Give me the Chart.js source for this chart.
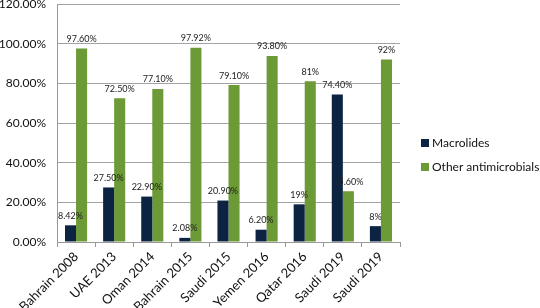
<!DOCTYPE html>
<html>
<head>
<meta charset="utf-8">
<script src="https://cdn.jsdelivr.net/npm/chart.js@4.4.0/dist/chart.umd.min.js"></script>
<style>
  html, body { margin: 0; padding: 0; background: #fff; }
  #wrap { width: 540px; height: 308px; }
</style>
</head>
<body>
<div id="wrap"><canvas id="chart"></canvas></div>
<script>
// chart data
const categories = ['Bahrain 2008', 'UAE 2013', 'Oman 2014', 'Bahrain 2015', 'Saudi 2015',
                    'Yemen 2016', 'Qatar 2016', 'Saudi 2019', 'Saudi 2019'];
const macrolides = [8.42, 27.5, 22.9, 2.08, 20.9, 6.2, 19, 74.4, 8];
const otherAntimicrobials = [97.6, 72.5, 77.1, 97.92, 79.1, 93.8, 81, 25.6, 92];
const yTicks = [0, 20, 40, 60, 80, 100, 120];

const NAVY = '#0c2442';
const GREEN = '#6b9a36';
const FONT = 'Lato, "DejaVu Sans", sans-serif';

// label text like the original: whole numbers without decimals
function pct(v) {
    return Number.isInteger(v) ? v + '%' : v.toFixed(2) + '%';
}

// draw value labels above each bar
const barLabels = {
    id: 'barLabels',
    afterDatasetsDraw(chart) {
        const ctx = chart.ctx;
        ctx.save();
        ctx.font = '9px ' + FONT;
        ctx.fillStyle = '#222';
        ctx.textAlign = 'center';
        ctx.textBaseline = 'bottom';
        chart.data.datasets.forEach((ds, i) => {
            chart.getDatasetMeta(i).data.forEach((bar, j) => {
                ctx.fillText(pct(ds.data[j]), bar.x, bar.y - 5);
            });
        });
        ctx.restore();
    }
};

// legend drawn by hand on the right side
const sideLegend = {
    id: 'sideLegend',
    afterDraw(chart) {
        const ctx = chart.ctx;
        ctx.save();
        ctx.font = '12px ' + FONT;
        ctx.textBaseline = 'middle';
        chart.data.datasets.forEach((ds, i) => {
            const y = 143 + i * 24;
            ctx.fillStyle = ds.backgroundColor;
            ctx.fillRect(421, y - 4, 8, 8);
            ctx.fillStyle = '#111';
            ctx.fillText(ds.label, 432, y);
        });
        ctx.restore();
    }
};

new Chart(document.getElementById('chart'), {
    type: 'bar',
    data: {
        labels: categories,
        datasets: [
            { label: 'Macrolides', data: macrolides, backgroundColor: NAVY },
            { label: 'Other antimicrobials', data: otherAntimicrobials, backgroundColor: GREEN }
        ]
    },
    options: {
        responsive: true,
        maintainAspectRatio: false,
        animation: false,
        layout: { padding: { top: 4, right: 140, left: 0, bottom: 0 } },
        datasets: { bar: { categoryPercentage: 0.58, barPercentage: 1 } },
        plugins: { legend: { display: false }, tooltip: { enabled: false } },
        scales: {
            x: {
                grid: { drawOnChartArea: false, drawTicks: true, tickLength: 5, color: '#999', offset: true },
                border: { color: '#999' },
                ticks: { color: '#111', font: { family: FONT, size: 13 }, minRotation: 45, maxRotation: 45, padding: 2 },
                afterFit(scale) {
                    scale.height = 66;
                    scale.paddingLeft = 0;
                    scale.paddingRight = 0;
                }
            },
            y: {
                min: 0,
                max: 120,
                grid: { color: '#a3a3a3', drawTicks: false },
                border: { color: '#999' },
                ticks: {
                    stepSize: 20,
                    color: '#111',
                    padding: 11,
                    font: { family: FONT, size: 12 },
                    callback: v => yTicks.includes(v) ? v.toFixed(2) + '%' : ''
                },
                afterFit(scale) {
                    scale.width = 57;
                    scale.paddingTop = 0;
                    scale.paddingBottom = 0;
                }
            }
        }
    },
    plugins: [barLabels, sideLegend]
});
</script>
</body>
</html>
